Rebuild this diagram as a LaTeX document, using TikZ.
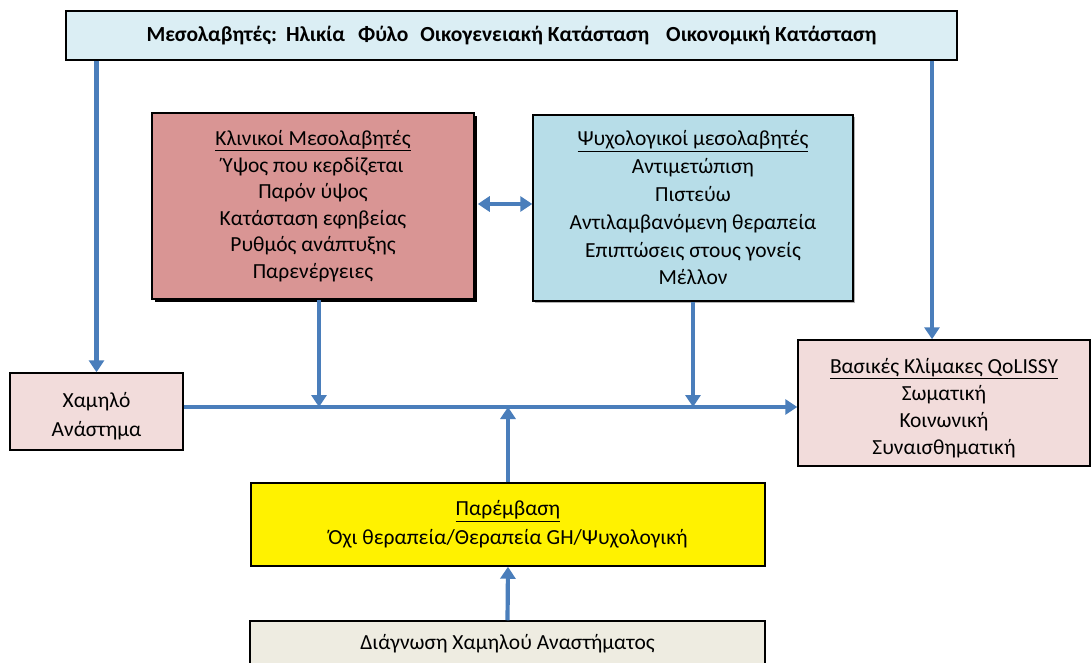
\documentclass[tikz,border=0pt]{standalone}
\usepackage{fontspec}
\setmainfont{Carlito}
\usetikzlibrary{arrows.meta,shadows}
\definecolor{arrblue}{HTML}{4A7EBB}
\definecolor{topfill}{HTML}{DBEEF4}
\definecolor{redfill}{HTML}{D99594}
\definecolor{bluefill}{HTML}{B7DDE8}
\definecolor{pinkfill}{HTML}{F2DCDB}
\definecolor{diagfill}{HTML}{EEECE1}
\tikzset{
  box/.style={draw=black, line width=1.5pt, inner sep=0pt, align=center, font=\fontsize{21.5}{26.5}\selectfont},
  arr/.style={draw=arrblue, line width=4.2pt, -{Triangle[width=15pt,length=12pt]}},
  arrtwo/.style={draw=arrblue, line width=4.2pt, {Triangle[width=15pt,length=12pt]}-{Triangle[width=15pt,length=12pt]}},
}
\begin{document}
\begin{tikzpicture}[x=1pt,y=-1pt]
\clip (0,0) rectangle (1092,663);
\fill[white] (0,0) rectangle (1092,663);
% nodes
\node[box, fill=topfill, minimum width=891pt, minimum height=49pt, font=\fontsize{21.5}{24}\selectfont\bfseries] (top) at (511.5,35.5)
  {Μεσολαβητές:\hspace{9pt}Ηλικία\hspace{13pt}Φύλο\hspace{12pt}Οικογενειακή Κατάσταση\hspace{17pt}Οικονομική Κατάσταση};
\node[box, fill=redfill, minimum width=322pt, minimum height=186pt,
  drop shadow={shadow xshift=3pt, shadow yshift=-3pt, fill=black, opacity=1}] (red) at (313,206)
  {\underline{Κλινικοί Μεσολαβητές}\\Ύψος που κερδίζεται\\Παρόν ύψος\\Κατάσταση εφηβείας\\Ρυθμός ανάπτυξης\\Παρενέργειες};
\node[box, fill=bluefill, minimum width=320pt, minimum height=186pt, font=\fontsize{21.5}{27.8}\selectfont,
  drop shadow={shadow xshift=2pt, shadow yshift=-2pt, fill=gray!60, opacity=1}] (blue) at (693,208)
  {\underline{Ψυχολογικοί μεσολαβητές}\\Αντιμετώπιση\\Πιστεύω\\Αντιλαμβανόμενη θεραπεία\\Επιπτώσεις στους γονείς\\Μέλλον};
\node[box, fill=pinkfill, minimum width=173pt, minimum height=77pt, font=\fontsize{21.5}{29}\selectfont] (left) at (96.5,411.5)
  {\rule{0pt}{24pt}Χαμηλό\\Ανάστημα};
\node[box, fill=pinkfill, minimum width=292pt, minimum height=126pt, font=\fontsize{21.5}{27}\selectfont] (right) at (944,403)
  {\rule{0pt}{26pt}\underline{Βασικές Κλίμακες QoLISSY}\\Σωματική\\Κοινωνική\\Συναισθηματική};
\node[box, fill=yellow, minimum width=514pt, minimum height=83pt, font=\fontsize{21.5}{29}\selectfont] (yel) at (508,524.5)
  {\underline{Παρέμβαση}\\Όχι θεραπεία/Θεραπεία GH/Ψυχολογική};
\node[box, fill=diagfill, minimum width=515pt, minimum height=46pt] (diag) at (507.5,644)
  {Διάγνωση Χαμηλού Αναστήματος};
% helper coordinates
\coordinate (h) at (0,407);
\coordinate (tr) at (932,0);
\coordinate (rx) at (319,0);
\coordinate (dy) at (0,204);
% connectors
\draw[arr] (left.north |- top.south) -- (left.north);
\draw[arr] (tr |- top.south) -- (tr |- right.north);
\draw[arr] (left.east |- h) -- (right.west |- h);
\draw[arr] (rx |- red.south) -- (rx |- h);
\draw[arr] (blue.south) -- (blue.south |- h);
\draw[arr] (yel.north) -- (yel.north |- h);
\draw[arr] (diag.north) -- (yel.south);
\draw[arrtwo] ([xshift=3pt]red.east |- dy) -- (blue.west |- dy);
\end{tikzpicture}
\end{document}
